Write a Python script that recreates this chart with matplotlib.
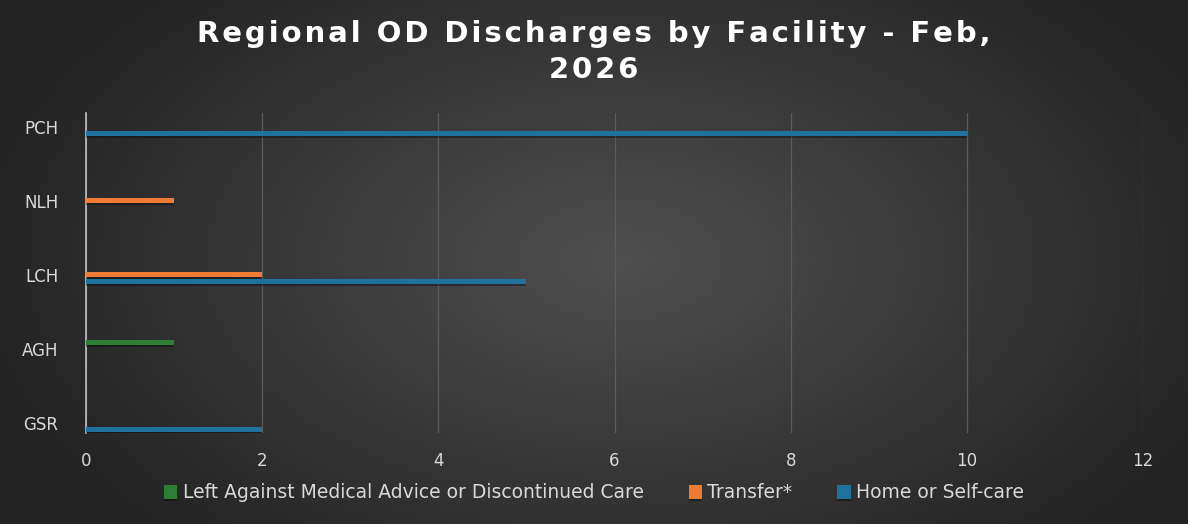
import numpy as np
import matplotlib.pyplot as plt
from matplotlib import patheffects as pe

facilities = ["GSR", "AGH", "LCH", "NLH", "PCH"]
series_names = ["Left Against Medical Advice or Discontinued Care", "Transfer*", "Home or Self-care"]
left_ama = [0, 1, 0, 0, 0]
transfer = [0, 0, 2, 1, 0]
home = [2, 0, 5, 0, 10]
colors = ["#2E7D35", "#F07B35", "#20729E"]
title_lines = ["Regional OD Discharges by Facility - Feb,", "2026"]

fig = plt.figure(figsize=(11.88, 5.24), dpi=100)

# radial background
bg = fig.add_axes([0, 0, 1, 1], zorder=-10)
yy, xx = np.mgrid[0:524, 0:1188]
r = np.sqrt(((xx - 620) / 680.0) ** 2 + ((yy - 260) / 400.0) ** 2)
shade = np.clip(0.31 - 0.18 * r, 0.14, 0.31)
bg.imshow(np.dstack([shade] * 3), aspect="auto", extent=[0, 1, 0, 1])
bg.axis("off")

ax = fig.add_axes([86 / 1188, 1 - 433 / 524, (1143 - 86) / 1188, (433 - 113) / 524])
ax.set_facecolor("none")

y = np.arange(len(facilities))
off = 0.088
h = 0.068
shadow = [pe.SimplePatchShadow(offset=(0, -1.5), shadow_rgbFace="black", alpha=0.35), pe.Normal()]
for vals, dy, c, name in zip([left_ama, transfer, home], [off, 0, -off], colors, series_names):
    bars = ax.barh(y + dy, vals, height=h, color=c, label=name, zorder=3)
    for b in bars:
        b.set_path_effects(shadow)

ax.set_xlim(0, 12)
ax.set_ylim(-0.14, 4.185)
ax.set_xticks(range(0, 13, 2))
ax.set_yticks(y)
ax.set_yticklabels(facilities)
ax.tick_params(colors="#d9d9d9", labelsize=12, length=0)
ax.tick_params(axis="x", pad=14)
ax.tick_params(axis="y", pad=20)
for s in ["top", "right", "bottom"]:
    ax.spines[s].set_visible(False)
ax.spines["left"].set_color("#bfbfbf")
ax.spines["left"].set_linewidth(1.2)
ax.grid(axis="x", color="#5c5c5c", linewidth=0.9, zorder=0)
ax.set_axisbelow(True)

# spread letters a little, like the original title
spaced = "\n".join("\u200a".join(line) for line in title_lines)
fig.text(0.5, 1 - 52 / 524, spaced, ha="center", va="center", color="white",
         fontsize=21, fontweight="bold", linespacing=1.35)

leg = fig.legend(loc="center", bbox_to_anchor=(0.5, 1 - 493 / 524), ncol=3, frameon=False,
                 fontsize=13.5, handlelength=0.7, handleheight=0.7, handletextpad=0.3,
                 columnspacing=2.4)
for t in leg.get_texts():
    t.set_color("#d9d9d9")

fig.savefig("out.png", dpi=100)
